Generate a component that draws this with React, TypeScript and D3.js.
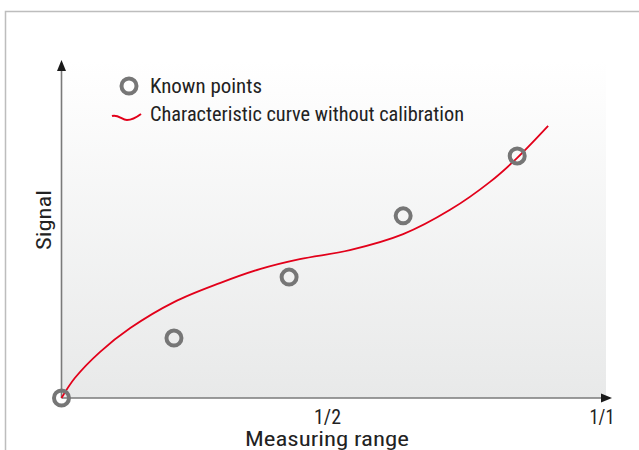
import React from "react";
import * as d3 from "d3";

const knownX = [0, 0.211, 0.427, 0.641, 0.855];
const knownY = [0, 0.18, 0.363, 0.547, 0.727];

const curveX = [0, 0.025, 0.072, 0.129, 0.211, 0.297, 0.372, 0.447, 0.541, 0.641, 0.729, 0.804, 0.855, 0.913];
const curveY = [0, 0.06, 0.138, 0.21, 0.288, 0.345, 0.387, 0.417, 0.444, 0.492, 0.565, 0.649, 0.721, 0.817];

const tickValues = [0.5, 1];
const tickLabels = ["1/2", "1/1"];

const legendLabels = ["Known points", "Characteristic curve without calibration"];
const xTitle = "Measuring range";
const yTitle = "Signal";

const W = 639;
const H = 450;
const FONT = "'Liberation Sans Narrow', 'Roboto Condensed', Roboto, Arial, sans-serif";

export default function App() {
  const x = d3.scaleLinear().domain([0, 1]).range([61.5, 594.5]);
  const y = d3.scaleLinear().domain([0, 1]).range([398, 65]);

  const curvePts: [number, number][] = curveX.map((v, i) => [v, curveY[i]]);
  const line = d3
    .line<[number, number]>()
    .x((d) => x(d[0]))
    .y((d) => y(d[1]))
    .curve(d3.curveCatmullRom.alpha(0.5));

  const x0 = x(0);
  const y0 = y(0);

  return (
    <svg
      width={W}
      height={H}
      style={{ position: "fixed", left: 0, top: 0, background: "#fff" }}
      fontFamily={FONT}
    >
      <defs>
        <linearGradient id="bg" x1="0" y1="0" x2="0" y2="1">
          <stop offset="0" stopColor="#ffffff" />
          <stop offset="1" stopColor="#e8e9e9" />
        </linearGradient>
      </defs>
      <path d={`M5.5,${H} V11.5 H${W}`} fill="none" stroke="#bdbdbd" strokeWidth={1.5} />
      <rect x={x0} y={61} width={606 - x0} height={y0 - 61} fill="url(#bg)" />
      <line x1={x0} y1={y0} x2={x0} y2={71} stroke="#7a7a7a" strokeWidth={1.6} />
      <path d={`M${x0},60 L${x0 + 4.5},71 L${x0 - 4.5},71 Z`} fill="#1a1a1a" />
      <line x1={x0} y1={y0} x2={601} y2={y0} stroke="#7a7a7a" strokeWidth={1.6} />
      <path d={`M612,${y0} L601,${y0 - 4.5} L601,${y0 + 4.5} Z`} fill="#1a1a1a" />
      {tickValues.map((t, i) => (
        <text
          key={t}
          x={i === tickValues.length - 1 ? 602 : x(t) - 0.5}
          y={424}
          textAnchor="middle"
          fontSize={21}
          fill="#222"
          textLength={i === tickValues.length - 1 ? 25 : 27}
          lengthAdjust="spacingAndGlyphs"
        >
          {tickLabels[i]}
        </text>
      ))}
      <text
        x={327}
        y={446}
        textAnchor="middle"
        fontSize={21}
        fill="#222"
        textLength={164}
        lengthAdjust="spacingAndGlyphs"
      >
        {xTitle}
      </text>
      <text
        transform={`translate(51,220) rotate(-90)`}
        textAnchor="middle"
        fontSize={21}
        fill="#222"
        textLength={60}
        lengthAdjust="spacingAndGlyphs"
      >
        {yTitle}
      </text>
      <path d={line(curvePts) || ""} fill="none" stroke="#e2001a" strokeWidth={1.8} />
      {knownX.map((v, i) => (
        <circle
          key={i}
          cx={x(v)}
          cy={y(knownY[i])}
          r={7.5}
          fill="none"
          stroke="#767676"
          strokeWidth={4}
        />
      ))}
      <circle cx={129} cy={86} r={7.5} fill="none" stroke="#767676" strokeWidth={4} />
      <text x={150} y={93} fontSize={20} fill="#222" textLength={112} lengthAdjust="spacingAndGlyphs">
        {legendLabels[0]}
      </text>
      <path
        d="M112,116 C118,114 122,120 127,120 C132,120 137,117 141,114"
        fill="none"
        stroke="#e2001a"
        strokeWidth={2}
      />
      <text x={150} y={121} fontSize={20} fill="#222" textLength={314} lengthAdjust="spacingAndGlyphs">
        {legendLabels[1]}
      </text>
    </svg>
  );
}
